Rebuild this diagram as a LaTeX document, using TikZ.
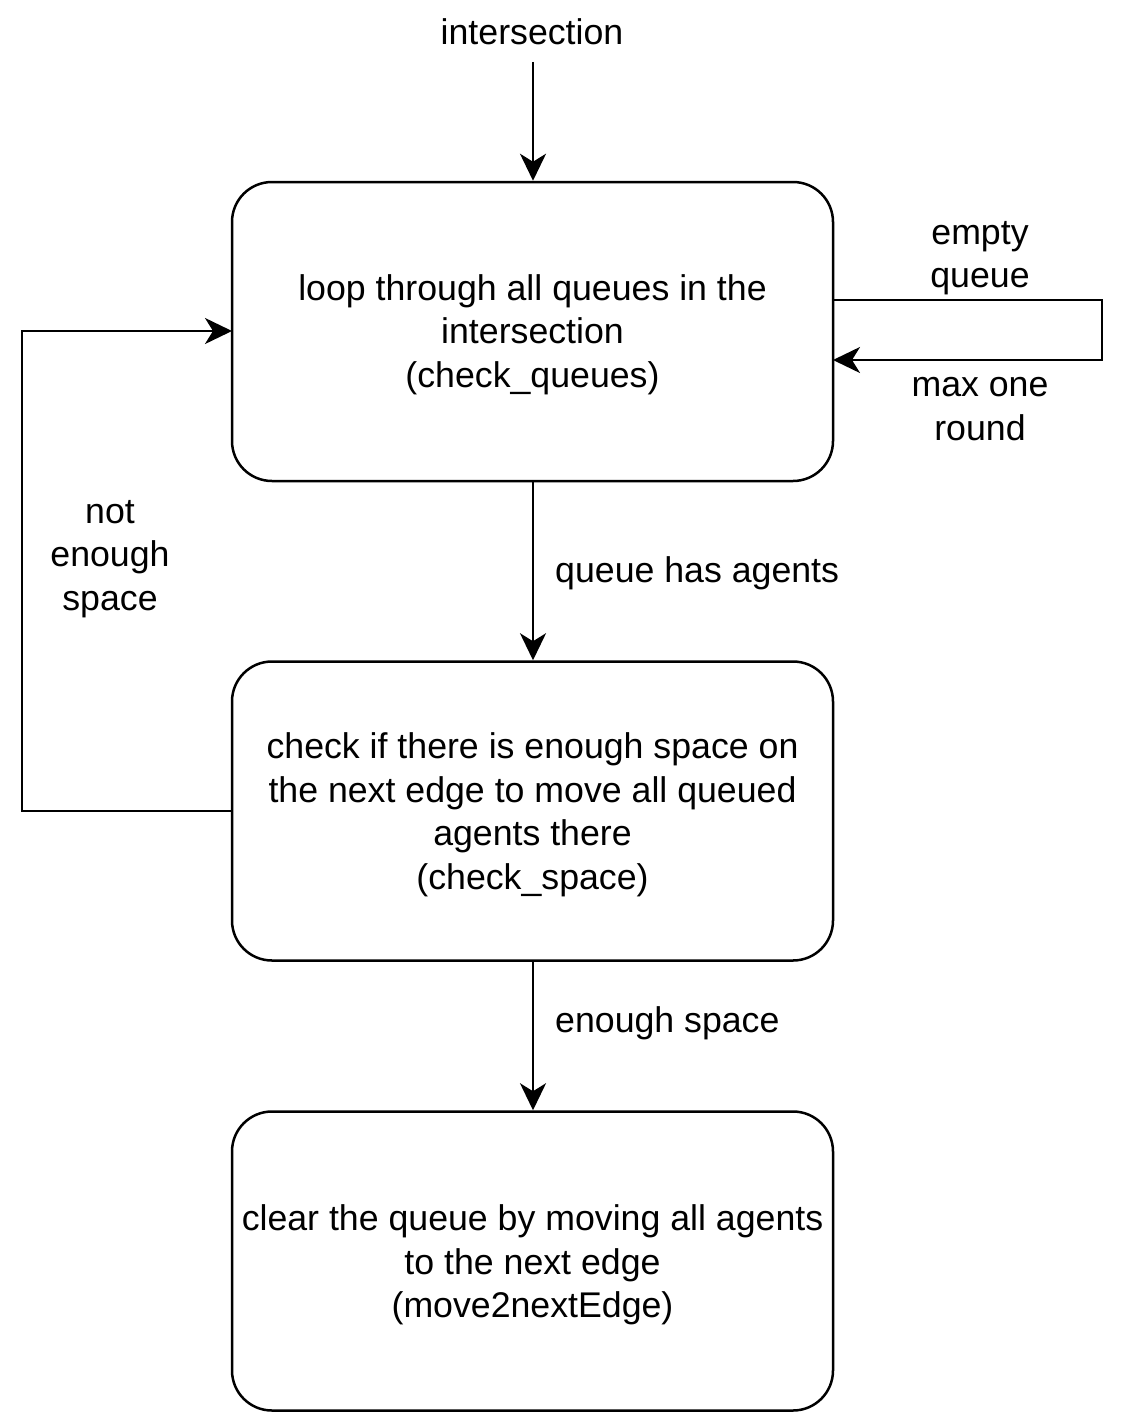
\documentclass[tikz,border=0pt]{standalone}
\usepackage{fontspec}
\setmainfont{Liberation Sans}
\usetikzlibrary{arrows.meta}
\begin{document}
\begin{tikzpicture}[x=1pt,y=-1pt,
  every node/.style={font=\fontsize{35.7}{43.5}\selectfont, align=center, inner sep=0pt},
  box/.style={draw, line width=2.5pt, rounded corners=40pt, minimum width=601pt, minimum height=299pt},
  arr/.style={line width=2.5pt, -{Stealth[length=27pt,width=26pt,inset=8pt]}}]
\useasboundingbox (0,0) rectangle (1128,1413);
\node (int) at (532,32) {intersection};
\node[box] (b1) at (532.5,331.5) {};
\node[box] (b2) at (532.5,811) {};
\node[box] (b3) at (532.5,1261) {};
\node (t1) at ([yshift=-3pt]b1.center) {loop through all queues in the\\intersection\\(check\_queues)};
\node (t2) at ([yshift=-4pt]b2.center) {check if there is enough space on\\the next edge to move all queued\\agents there\\(check\_space)};
\node (t3) at ([yshift=-4pt]b3.center) {clear the queue by moving all agents\\to the next edge\\(move2nextEdge)};
\coordinate (t0) at (533,62);
\draw[arr] (t0) -- (t0 |- b1.north);
\draw[arr] (b1.south -| 533,0) -- (b2.north -| 533,0);
\draw[arr] (b2.south -| 533,0) -- (b3.north -| 533,0);
\node[anchor=west] (l1) at (555,573) {queue has agents};
\node[anchor=west] (l2) at (555,1023) {enough space};
\coordinate (s1) at (833,300);
\coordinate (s2) at (1102,300);
\coordinate (s3) at (1102,360);
\coordinate (s4) at (833,360);
\draw[arr, line join=miter] (s1) -- (s2) -- (s3) -- (s4);
\node (le) at (980,258) {empty\\queue};
\node (lm) at (980,409) {max one\\round};
\coordinate (p1) at (232,811);
\coordinate (p2) at (22,811);
\coordinate (p3) at (22,331);
\coordinate (p4) at (232,331);
\draw[arr] (p1) -- (p2) -- (p3) -- (p4);
\node (ln) at (110,559) {not\\enough\\space};
\end{tikzpicture}
\end{document}
